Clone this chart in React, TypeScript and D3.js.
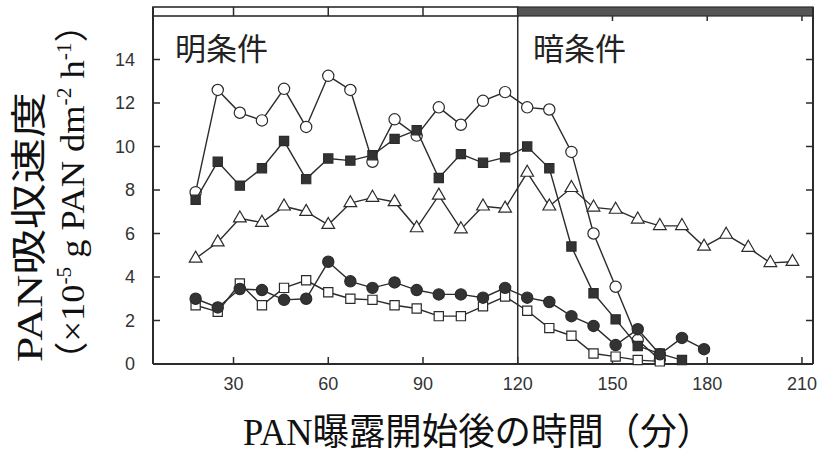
import React from "react";
import * as d3 from "d3";

const W = 819;
const H = 457;

// time points (min) every 7 min
const times = [18, 25, 32, 39, 46, 53, 60, 67, 74, 81, 88, 95, 102, 109, 116, 123, 130, 137, 144, 151, 158, 165, 172, 179, 186, 193, 200, 207];

const openCircle = [7.9, 12.6, 11.55, 11.2, 12.65, 10.9, 13.25, 12.6, 9.3, 11.25, 10.5, 11.8, 11.0, 12.1, 12.5, 11.8, 11.7, 9.75, 6.0, 3.55, 1.1, 0.2];
const filledSquare = [7.55, 9.3, 8.2, 9.0, 10.25, 8.5, 9.45, 9.35, 9.6, 10.35, 10.75, 8.55, 9.65, 9.25, 9.5, 10.0, 9.0, 5.4, 3.25, 2.05, 0.83, 0.48, 0.18];
const openTriangle = [4.85, 5.6, 6.7, 6.5, 7.25, 7.0, 6.4, 7.4, 7.65, 7.45, 6.25, 7.75, 6.2, 7.25, 7.15, 8.8, 7.25, 8.1, 7.2, 7.1, 6.65, 6.35, 6.35, 5.4, 5.95, 5.35, 4.65, 4.7];
const filledCircle = [3.0, 2.6, 3.45, 3.4, 2.95, 3.0, 4.7, 3.8, 3.5, 3.75, 3.4, 3.2, 3.2, 3.05, 3.5, 3.05, 2.85, 2.2, 1.75, 0.87, 1.6, 0.45, 1.2, 0.68];
const openSquare = [2.7, 2.4, 3.7, 2.7, 3.5, 3.85, 3.3, 3.0, 2.95, 2.7, 2.55, 2.2, 2.2, 2.65, 3.1, 2.45, 1.65, 1.3, 0.48, 0.34, 0.18, 0.12];

const xTicks = [30, 60, 90, 120, 150, 180, 210];
const yTicks = [0, 2, 4, 6, 8, 10, 12, 14];
const darkStart = 120;

const margin = { top: 7, barBottom: 16, right: 6, bottom: 93, left: 153 };

const x = d3.scaleLinear().domain([4.5, 213.5]).range([margin.left, W - margin.right]);
const y = d3.scaleLinear().domain([0, 14]).range([H - margin.bottom, 59.5]);

const ink = "#2b2b2b";

type Series = { values: number[]; shape: d3.SymbolType; size: number; filled: boolean };

const series: Series[] = [
  { values: openCircle, shape: d3.symbolCircle, size: 100, filled: false },
  { values: filledSquare, shape: d3.symbolSquare, size: 85, filled: true },
  { values: openTriangle, shape: d3.symbolTriangle, size: 70, filled: false },
  { values: openSquare, shape: d3.symbolSquare, size: 85, filled: false },
  { values: filledCircle, shape: d3.symbolCircle, size: 100, filled: true },
];

const line = d3
  .line<number>()
  .x((d, i) => x(times[i]))
  .y((d) => y(d));

export default function App() {
  const x0 = x.range()[0];
  const x1 = x.range()[1];
  const yb = y(0);
  const xd = x(darkStart);
  return (
    <svg width={W} height={H} style={{ position: "absolute", left: 0, top: 0, background: "#fff" }}>
      {/* top light/dark bar */}
      <rect x={x0} y={margin.top} width={xd - x0} height={margin.barBottom - margin.top} fill="#fff" stroke={ink} strokeWidth={1.6} />
      <rect x={xd} y={margin.top} width={x1 - xd} height={margin.barBottom - margin.top} fill="#555" stroke={ink} strokeWidth={1.2} />
      {xTicks.filter((t) => t < darkStart).map((t) => (
        <line key={"bt" + t} x1={x(t)} x2={x(t)} y1={margin.top} y2={margin.barBottom} stroke={ink} strokeWidth={1.5} />
      ))}
      {xTicks.filter((t) => t > darkStart).map((t) => (
        <line key={"dt" + t} x1={x(t)} x2={x(t)} y1={margin.barBottom} y2={margin.barBottom + 5} stroke={ink} strokeWidth={1.5} />
      ))}

      {/* frame */}
      <line x1={x0} x2={x0} y1={margin.top} y2={yb} stroke={ink} strokeWidth={2} />
      <line x1={x1} x2={x1} y1={margin.top} y2={yb} stroke={ink} strokeWidth={2} />
      <line x1={x0} x2={x1} y1={yb} y2={yb} stroke={ink} strokeWidth={2} />
      <line x1={xd} x2={xd} y1={margin.barBottom} y2={yb} stroke={ink} strokeWidth={1.5} />

      {/* ticks */}
      {yTicks.filter((v) => v > 0).map((v) => (
        <g key={"yt" + v}>
          <line x1={x0} x2={x0 + 7} y1={y(v)} y2={y(v)} stroke={ink} strokeWidth={1.5} />
          <line x1={x1 - 7} x2={x1} y1={y(v)} y2={y(v)} stroke={ink} strokeWidth={1.5} />
        </g>
      ))}
      {xTicks.map((t) => (
        <line key={"xt" + t} x1={x(t)} x2={x(t)} y1={yb} y2={yb - 7} stroke={ink} strokeWidth={1.5} />
      ))}

      {/* tick labels */}
      <g fontFamily="'Liberation Sans', Arial, sans-serif" fontSize={18} fill="#333">
        {yTicks.map((v) => (
          <text key={"yl" + v} x={135} y={y(v)} dy="0.36em" textAnchor="end">{v}</text>
        ))}
        {xTicks.map((t) => (
          <text key={"xl" + t} x={x(t)} y={390} textAnchor="middle">{t}</text>
        ))}
      </g>

      {/* condition labels */}
      <g fontFamily="'Noto Sans CJK JP', sans-serif" fontSize={31} fill="#222">
        <text x={175} y={60}>明条件</text>
        <text x={533} y={60}>暗条件</text>
      </g>

      {/* series */}
      {series.map((s, k) => {
        const sym = d3.symbol().type(s.shape).size(s.size)();
        return (
          <g key={"s" + k}>
            <path d={line(s.values) || ""} fill="none" stroke={ink} strokeWidth={1.4} />
            {s.values.map((v, i) => (
              <path
                key={i}
                d={sym || ""}
                transform={`translate(${x(times[i])},${y(v)})`}
                fill={s.filled ? "#333" : "#fff"}
                stroke={ink}
                strokeWidth={1.2}
              />
            ))}
          </g>
        );
      })}

      {/* axis titles */}
      <text
        x={478}
        y={445}
        textAnchor="middle"
        fontSize={37}
        fill="#111"
        fontFamily="'Liberation Serif', 'Noto Sans CJK JP', serif"
        textLength={470}
        lengthAdjust="spacingAndGlyphs"
      >
        PAN曝露開始後の時間（分）
      </text>
      <g fontFamily="'Liberation Serif', 'Noto Sans CJK JP', serif" fill="#111">
        <text transform="translate(42,227) rotate(-90) scale(1.27,1)" textAnchor="middle" fontSize={36}>PAN吸収速度</text>
        <text transform="translate(84,192) rotate(-90) scale(1.07,1)" textAnchor="middle" fontSize={34}>
          （×10<tspan fontSize={20} dy={-13}>-5</tspan>
          <tspan dy={13}> g PAN dm</tspan>
          <tspan fontSize={20} dy={-13}>-2</tspan>
          <tspan dy={13}> h</tspan>
          <tspan fontSize={20} dy={-13}>-1</tspan>
          <tspan dy={13}>）</tspan>
        </text>
      </g>
    </svg>
  );
}
